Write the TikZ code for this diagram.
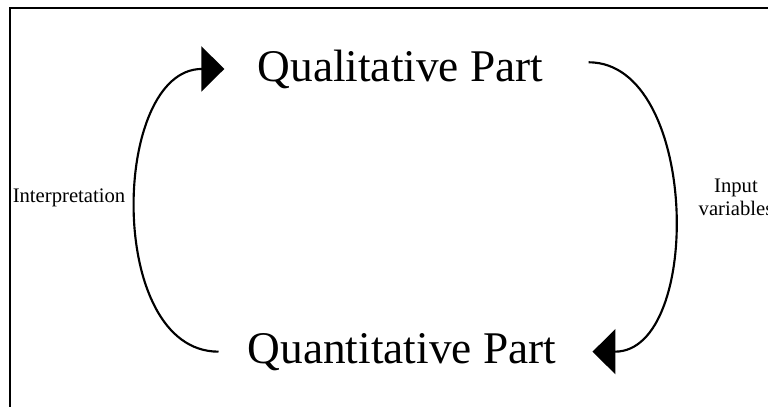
\documentclass[tikz,border=0pt]{standalone}
\usepackage{fontspec}
\setmainfont{Liberation Serif}
\usetikzlibrary{arrows.meta, positioning}
\tikzset{
  part/.style={inner sep=0pt, font=\fontsize{34}{40}\selectfont},
  note/.style={inner sep=0pt, font=\fontsize{15.5}{17.25}\selectfont},
  loop arrow/.style={line width=1.6pt, -{Triangle[length=17.25pt, width=33.75pt]}},
}

\begin{document}
\begin{tikzpicture}[x=0.75pt, y=-0.75pt]
  \useasboundingbox (0,0) rectangle (768,407);

  % --- Frame ---
  \draw[line width=1.5pt] (10,8) rectangle (790,430);

  % --- Nodes ---
  \node[part, anchor=base] (qual) at (400.5,81) {Qualitative Part};
  \node[part, anchor=base] (quant) at (402,363) {Quantitative Part};
  \node[note, anchor=base west] (interp) at (12.5,202) {Interpretation};
  \node[note, anchor=base, align=center] (input) at (736,215) {Input\\variables};

  % --- Edges (the two halves of the loop) ---
  \path[loop arrow]
  ([xshift=-21.75pt]quant.west) edge[out=180, in=180, distance=85pt]
    ([xshift=-24.75pt]qual.west)
  ([xshift=33.75pt, yshift=5pt]qual.east) edge[out=0, in=0, distance=83pt]
    ([xshift=27pt]quant.east);
\end{tikzpicture}
\end{document}
